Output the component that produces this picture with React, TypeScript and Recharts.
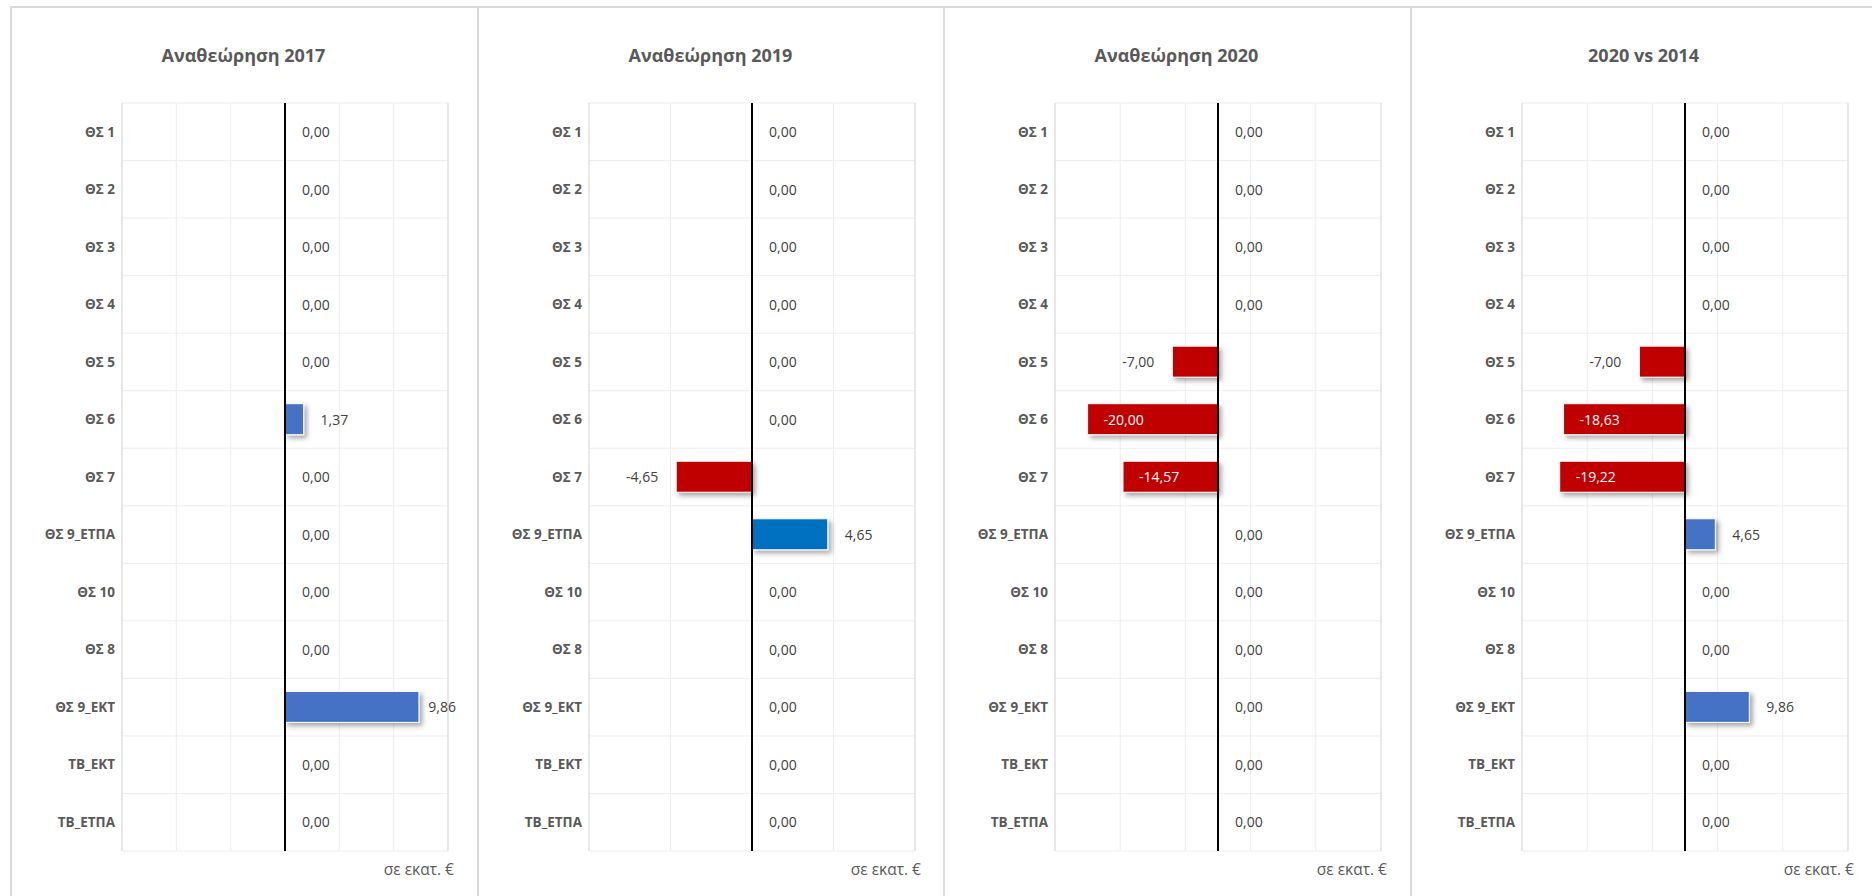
import React from 'react';
import { BarChart, Bar, XAxis, YAxis, CartesianGrid, ReferenceLine, LabelList } from 'recharts';

// ---------- data ----------
const categories = [
  'ΘΣ 1', 'ΘΣ 2', 'ΘΣ 3', 'ΘΣ 4', 'ΘΣ 5', 'ΘΣ 6', 'ΘΣ 7',
  'ΘΣ 9_ΕΤΠΑ', 'ΘΣ 10', 'ΘΣ 8', 'ΘΣ 9_ΕΚΤ', 'ΤΒ_ΕΚΤ', 'ΤΒ_ΕΤΠΑ',
];
const rev2017 = [0, 0, 0, 0, 0, 1.37, 0, 0, 0, 0, 9.86, 0, 0];
const rev2019 = [0, 0, 0, 0, 0, 0, -4.65, 4.65, 0, 0, 0, 0, 0];
const rev2020 = [0, 0, 0, 0, -7.0, -20.0, -14.57, 0, 0, 0, 0, 0, 0];
const vs2014 = [0, 0, 0, 0, -7.0, -18.63, -19.22, 4.65, 0, 0, 9.86, 0, 0];

const titles = ['Αναθεώρηση 2017', 'Αναθεώρηση 2019', 'Αναθεώρηση 2020', '2020 vs 2014'];
const seriesList = [rev2017, rev2019, rev2020, vs2014];
const domains: [number, number][] = [[-12, 12], [-10, 10], [-25, 25], [-25, 25]];
const tickSets = [
  [-12, -8, -4, 0, 4, 8, 12],
  [-10, -5, 0, 5, 10],
  [-25, -15, -5, 5, 15, 25],
  [-25, -15, -5, 5, 15, 25],
];
const positiveColors = ['#4472C4', '#0070C0', '#4472C4', '#4472C4'];
const negativeColor = '#C00000';
const unitLabel = 'σε εκατ. €';

// ---------- layout ----------
const PANEL_X = [10, 477, 943, 1410];
const CHART_W = 467;
const CHART_H = 896;
const MARGIN = { top: 103, right: 29, bottom: 45, left: 12 };
const YAXIS_W = 100;
const FONT = '"Open Sans", "DejaVu Sans", sans-serif';
const BORDER = '#D9D9D9';

const fmt = (v: number) => v.toFixed(2).replace('.', ',');

const makeShape = (posColor: string) => (props: any) => {
  const { x, y, width, height, payload } = props;
  const v = payload ? Number(payload.value) : 0;
  if (!v || !width) return <g />;
  const x0 = Math.min(x, x + width);
  const w = Math.abs(width);
  return (
    <rect
      x={x0}
      y={y}
      width={w}
      height={height}
      fill={v < 0 ? negativeColor : posColor}
      stroke="#FFFFFF"
      strokeWidth={1}
      filter="url(#barShadow)"
    />
  );
};

const makeLabel = (plotRight: number) => (props: any) => {
  const vb = props.viewBox && props.viewBox.height !== undefined ? props.viewBox : props;
  const x = Number(vb.x);
  const y = Number(vb.y);
  const width = Number(vb.width) || 0;
  const height = Number(vb.height) || 0;
  const v = Number(props.value);
  const cy = y + height / 2;
  const lo = Math.min(x, x + width);
  const hi = Math.max(x, x + width);
  const common = {
    y: cy,
    dominantBaseline: 'central' as const,
    fontSize: 14,
    fontFamily: FONT,
  };
  if (v < 0 && Math.abs(v) > 10) {
    return (
      <text {...common} x={lo + 16} textAnchor="start" fill="#FFFFFF">
        {fmt(v)}
      </text>
    );
  }
  if (v < 0) {
    return (
      <text {...common} x={lo - 18} textAnchor="end" fill="#404040">
        {fmt(v)}
      </text>
    );
  }
  let tx = hi + 17;
  let anchor: 'start' | 'end' = 'start';
  if (tx + 29 > plotRight + 8) {
    tx = plotRight + 8;
    anchor = 'end';
  }
  return (
    <text {...common} x={tx} textAnchor={anchor} fill="#404040">
      {fmt(v)}
    </text>
  );
};

function Panel({ index }: { index: number }) {
  const values = seriesList[index];
  const data = categories.map((name, i) => ({ name, value: values[i] }));
  const domain = domains[index];
  const ticks = tickSets[index];
  const left = PANEL_X[index];
  const plotRight = CHART_W - MARGIN.right;
  const n = categories.length;

  const hGen = (args: any) => {
    const off = args && args.offset ? args.offset : null;
    const top = off ? off.top : MARGIN.top;
    const h = off ? off.height : CHART_H - MARGIN.top - MARGIN.bottom;
    return Array.from({ length: n + 1 }, (_, k) => top + (k * h) / n);
  };

  return (
    <div style={{ position: 'absolute', left, top: 0, width: CHART_W, height: CHART_H }}>
      <div style={{ position: 'absolute', left: 0, top: 6, width: 2, height: CHART_H - 6, background: BORDER }} />
      <div
        style={{
          position: 'absolute',
          left: 0,
          top: 43,
          width: CHART_W,
          lineHeight: '24px',
          textAlign: 'center',
          fontFamily: FONT,
          fontWeight: 700,
          fontSize: 18,
          color: '#595959',
        }}
      >
        {titles[index]}
      </div>
      <div
        style={{
          position: 'absolute',
          left: 0,
          top: 859,
          width: 444,
          lineHeight: '20px',
          textAlign: 'right',
          fontFamily: FONT,
          fontSize: 15.5,
          color: '#595959',
        }}
      >
        {unitLabel}
      </div>
      <div style={{ position: 'absolute', left: 0, top: 0 }}>
        <BarChart width={CHART_W} height={CHART_H} data={data} layout="vertical" margin={MARGIN}>
          <CartesianGrid
            stroke="#EDEDED"
            strokeWidth={1}
            horizontal={{ stroke: '#D9D9D9' } as any}
            horizontalCoordinatesGenerator={hGen as any}
          />
          <XAxis type="number" domain={domain} ticks={ticks} hide allowDataOverflow />
          <YAxis
            type="category"
            dataKey="name"
            width={YAXIS_W}
            axisLine={false}
            tickLine={false}
            tickSize={0}
            tickMargin={7}
            interval={0}
            tick={{ fill: '#595959', fontSize: 13.5, fontWeight: 700, fontFamily: FONT }}
          />
          <ReferenceLine x={domain[0]} stroke="#D9D9D9" strokeWidth={1} />
          <ReferenceLine x={domain[1]} stroke="#D9D9D9" strokeWidth={1} />
          <Bar dataKey="value" barSize={31} isAnimationActive={false} shape={makeShape(positiveColors[index])}>
            <LabelList dataKey="value" content={makeLabel(plotRight)} />
          </Bar>
          <ReferenceLine x={0} stroke="#000000" strokeWidth={2} />
        </BarChart>
      </div>
    </div>
  );
}

export default function App() {
  return (
    <div
      style={{
        position: 'absolute',
        left: 0,
        top: 0,
        width: 1872,
        height: 896,
        background: '#FFFFFF',
        overflow: 'hidden',
        fontFamily: FONT,
      }}
    >
      <svg width={0} height={0} style={{ position: 'absolute' }}>
        <defs>
          <filter id="barShadow" filterUnits="userSpaceOnUse" x={0} y={0} width={2000} height={1000}>
            <feDropShadow dx={3} dy={3} stdDeviation={2.5} floodColor="#000000" floodOpacity={0.35} />
          </filter>
        </defs>
      </svg>
      <div style={{ position: 'absolute', left: 10, top: 6, width: 1862, height: 2, background: BORDER }} />
      {titles.map((_, i) => (
        <Panel key={i} index={i} />
      ))}
    </div>
  );
}
